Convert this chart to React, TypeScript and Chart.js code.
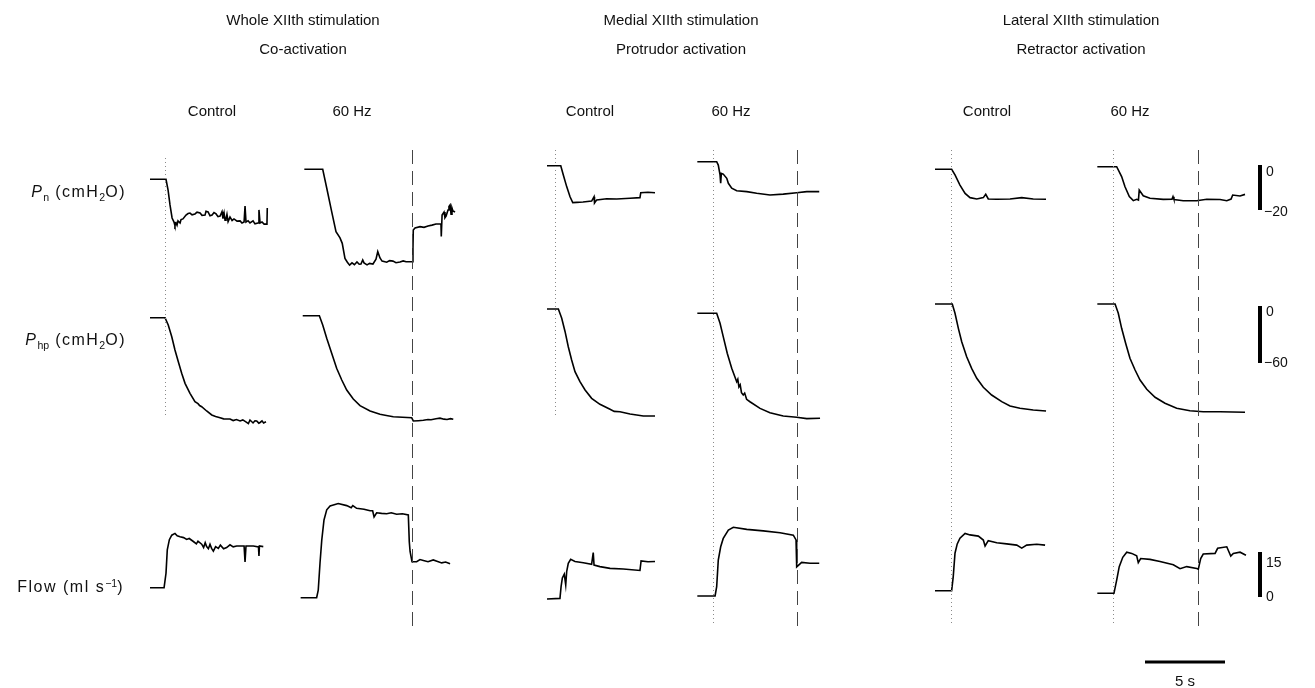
import React, { useEffect, useRef } from "react";
import { Chart, registerables } from "chart.js";

Chart.register(...registerables);

type Pt = [number, number];

// ---------------- DATA: [time from panel start (s), value] ----------------
// Pn (cmH2O)
const wholeCtrlPn: Pt[] = [[0,0],[1.0,0],[1.13,-4.8],[1.25,-11.4],[1.38,-17.2],[1.5,-19.0],[1.56,-20.6],[1.63,-19.4],[1.69,-20.4],[1.75,-18.5],[1.88,-19.4],[1.94,-17.9],[2.06,-17.6],[2.25,-15.9],[2.38,-15.2],[2.5,-15.0],[2.63,-15.8],[2.81,-15.4],[2.94,-14.6],[3.13,-15.0],[3.25,-16.0],[3.44,-15.9],[3.5,-14.2],[3.63,-14.5],[3.75,-16.2],[3.88,-15.9],[4.0,-14.8],[4.13,-15.4],[4.25,-16.6],[4.38,-16.3],[4.5,-14.4],[4.56,-17.5],[4.63,-15.0],[4.69,-18.2],[4.75,-17.6],[4.81,-15.6],[4.88,-18.8],[5.0,-16.8],[5.13,-18.3],[5.25,-17.6],[5.44,-18.6],[5.63,-18.5],[5.75,-19.4],[5.88,-19.0],[5.94,-11.9],[6.0,-19.0],[6.13,-18.4],[6.25,-19.4],[6.44,-18.5],[6.56,-19.8],[6.75,-19.4],[6.81,-13.6],[6.88,-19.4],[7.0,-19.0],[7.13,-19.9],[7.31,-19.9],[7.33,-12.8]];
const wholeHzPn: Pt[] = [[0.27,0],[1.42,0],[1.67,-8.3],[1.98,-18.8],[2.25,-27.7],[2.5,-30.5],[2.64,-32.9],[2.81,-39.6],[2.96,-41.3],[3.1,-42.6],[3.25,-41.6],[3.4,-42.4],[3.56,-41.2],[3.7,-42.2],[3.81,-42.1],[3.92,-40.3],[4.0,-41.6],[4.19,-42.5],[4.35,-41.8],[4.56,-42.1],[4.75,-40.0],[4.86,-36.6],[5.0,-39.4],[5.13,-40.8],[5.42,-41.3],[5.6,-40.6],[5.81,-40.8],[6.0,-41.5],[6.25,-41.2],[6.45,-40.7],[6.63,-41.1],[7.04,-41.1],[7.06,-35.1],[7.08,-27.0],[7.19,-26.1],[7.5,-25.5],[7.75,-25.8],[8.0,-25.2],[8.25,-24.8],[8.5,-24.3],[8.81,-24.3],[8.83,-29.9],[8.88,-20.3],[9.0,-19.0],[9.06,-21.5],[9.13,-20.8],[9.25,-18.1],[9.31,-16.5],[9.38,-15.8],[9.44,-20.0],[9.5,-17.2],[9.56,-18.5],[9.69,-19.0]];
const medCtrlPn: Pt[] = [[0,0],[0.86,0],[1.02,-4.1],[1.23,-9.3],[1.44,-13.8],[1.61,-16.4],[1.86,-16.3],[2.25,-16.1],[2.79,-15.7],[2.94,-13.8],[2.97,-16.6],[3.11,-15.2],[3.73,-14.7],[4.36,-14.8],[5.19,-14.5],[5.81,-14.2],[5.86,-12.0],[6.31,-11.8],[6.75,-12.0]];
const medHzPn: Pt[] = [[0.02,0],[1.23,0],[1.33,-1.5],[1.44,-5.9],[1.48,-9.6],[1.52,-5.2],[1.64,-5.5],[1.86,-7.4],[1.96,-9.6],[2.17,-11.8],[2.48,-12.9],[3.11,-13.3],[3.73,-14.0],[4.56,-14.8],[5.39,-14.4],[6.23,-13.8],[6.86,-13.3],[7.64,-13.3]];
const latCtrlPn: Pt[] = [[0,0],[1.04,0],[1.25,-2.5],[1.56,-7.0],[1.88,-10.7],[2.19,-12.6],[2.61,-13.2],[3.02,-12.6],[3.17,-11.1],[3.33,-13.2],[3.86,-13.3],[4.69,-13.2],[5.42,-12.6],[6.14,-13.2],[6.94,-13.3]];
const latHzPn: Pt[] = [[0.02,0],[1.23,0],[1.54,-4.4],[1.75,-8.9],[2.02,-13.3],[2.27,-15.1],[2.48,-14.5],[2.59,-14.8],[2.64,-10.4],[2.89,-12.9],[3.31,-14.0],[4.14,-14.5],[4.69,-14.4],[4.75,-13.3],[4.81,-14.6],[5.39,-15.1],[6.23,-15.1],[6.86,-14.5],[7.69,-14.6],[8.11,-15.1],[8.38,-14.4],[8.48,-12.6],[8.94,-13.0],[9.25,-12.3]];

// Php (cmH2O)
const wholeCtrlPhp: Pt[] = [[0,0],[0.94,0],[1.14,-7.7],[1.36,-20.0],[1.56,-34.0],[1.77,-46.3],[1.98,-58.5],[2.19,-69.1],[2.5,-79.6],[2.81,-88.4],[3.0,-90.5],[3.1,-92.5],[3.23,-93.7],[3.54,-98.2],[3.86,-102.4],[4.1,-104.0],[4.38,-105.3],[4.6,-106.5],[5.0,-106.6],[5.2,-108.3],[5.4,-107.2],[5.63,-108.7],[5.8,-107.6],[6.04,-110.1],[6.15,-111.5],[6.25,-107.7],[6.44,-110.8],[6.56,-108.5],[6.67,-108.7],[6.8,-111.0],[6.88,-110.3],[7.0,-108.6],[7.1,-110.8],[7.25,-109.5]];
const wholeHzPhp: Pt[] = [[0.17,0],[1.21,0],[1.42,-9.8],[1.67,-23.8],[1.98,-39.6],[2.29,-55.4],[2.61,-67.7],[2.92,-78.2],[3.33,-87.7],[3.75,-94.7],[4.38,-100.3],[5.0,-103.8],[5.4,-105.0],[5.83,-106.3],[6.4,-106.9],[6.98,-107.4],[7.08,-110.8],[7.4,-110.5],[7.71,-110.1],[8.0,-109.2],[8.19,-109.5],[8.5,-108.4],[8.75,-107.8],[9.0,-108.9],[9.19,-109.2],[9.4,-108.4],[9.58,-109.1]];
const medCtrlPhp: Pt[] = [[0,0],[0.71,0],[0.92,-9.8],[1.13,-23.9],[1.33,-39.7],[1.54,-53.7],[1.75,-66.0],[2.06,-76.5],[2.38,-85.3],[2.79,-94.0],[3.31,-100.3],[3.94,-105.6],[4.2,-107.8],[4.56,-108.1],[5.19,-110.5],[6.02,-112.6],[6.75,-112.6]];
const medHzPhp: Pt[] = [[0.02,0],[1.23,0],[1.44,-10.5],[1.64,-24.6],[1.89,-42.1],[2.17,-57.9],[2.48,-72.0],[2.55,-69.5],[2.62,-77.5],[2.7,-75.2],[2.78,-83.5],[2.89,-86.0],[2.98,-84.0],[3.1,-90.5],[3.31,-93.1],[3.94,-100.1],[4.56,-104.6],[5.39,-108.1],[6.23,-109.5],[6.86,-110.9],[7.69,-110.5]];
const latCtrlPhp: Pt[] = [[0,0],[1.08,0],[1.25,-9.8],[1.46,-25.6],[1.67,-39.7],[1.98,-55.5],[2.29,-67.7],[2.61,-78.2],[3.02,-87.7],[3.54,-95.8],[4.17,-102.8],[4.69,-107.4],[5.31,-109.8],[6.14,-111.6],[6.94,-112.6]];
const latHzPhp: Pt[] = [[0.02,0],[1.13,0],[1.33,-9.8],[1.54,-25.6],[1.79,-41.4],[2.06,-57.2],[2.38,-69.5],[2.69,-80.0],[3.11,-89.8],[3.63,-98.2],[4.25,-104.5],[4.98,-109.8],[5.81,-112.3],[6.64,-113.4],[7.69,-113.4],[9.25,-114.0]];

// Flow (ml s-1)
const wholeCtrlFlow: Pt[] = [[0,0],[0.88,0],[1.0,4.8],[1.08,12.6],[1.21,16.0],[1.36,17.5],[1.56,18.1],[1.7,17.3],[1.88,17.0],[2.1,16.7],[2.29,16.1],[2.45,16.4],[2.71,15.4],[2.9,14.6],[3.0,15.5],[3.23,14.5],[3.35,13.4],[3.45,15.0],[3.54,13.7],[3.65,13.0],[3.75,14.5],[3.85,13.1],[3.96,12.2],[4.1,13.7],[4.27,13.1],[4.4,14.2],[4.6,13.0],[4.79,13.4],[5.0,14.3],[5.2,13.6],[5.42,13.9],[5.88,13.9],[5.94,8.6],[6.0,13.9],[6.46,13.9],[6.78,13.6],[6.81,10.6],[6.84,13.9],[7.08,13.7]];
const wholeHzFlow: Pt[] = [[0.04,0],[1.04,0],[1.14,2.5],[1.25,11.5],[1.36,19.2],[1.5,25.9],[1.67,29.3],[1.88,30.6],[2.39,31.4],[2.92,30.7],[3.2,30.0],[3.3,30.7],[3.54,29.8],[4.0,29.5],[4.38,29.0],[4.54,29.0],[4.63,26.9],[4.79,28.3],[5.1,28.1],[5.42,28.0],[5.7,28.3],[6.04,27.8],[6.4,28.0],[6.77,27.6],[6.83,18.7],[6.88,15.4],[7.0,12.0],[7.29,12.0],[7.5,12.7],[7.71,12.4],[8.0,12.0],[8.33,12.6],[8.6,12.1],[8.86,11.6],[9.1,11.9],[9.38,11.3]];
const medCtrlFlow: Pt[] = [[0,0],[0.81,0.2],[0.88,4.1],[0.96,7.0],[1.08,8.3],[1.17,4.7],[1.23,9.1],[1.33,11.9],[1.48,13.2],[1.75,12.5],[2.27,12.1],[2.79,11.6],[2.89,15.5],[2.94,11.3],[3.31,10.8],[3.94,10.2],[4.77,10.0],[5.81,9.5],[5.88,12.7],[6.31,12.4],[6.75,12.5]];
const medHzFlow: Pt[] = [[0.02,0],[1.13,0],[1.23,3.1],[1.33,12.0],[1.48,16.4],[1.64,19.2],[1.96,22.0],[2.27,22.9],[3.11,22.2],[4.14,21.7],[5.19,21.1],[6.02,20.3],[6.19,18.7],[6.23,9.7],[6.54,11.2],[7.06,10.9],[7.64,10.9]];
const latCtrlFlow: Pt[] = [[0,0],[1.04,0],[1.14,4.7],[1.25,12.5],[1.39,15.6],[1.56,17.5],[1.88,19.1],[2.19,18.6],[2.71,18.2],[3.02,16.9],[3.13,14.9],[3.33,16.7],[3.86,16.0],[4.48,15.6],[5.11,15.2],[5.42,14.2],[5.73,15.2],[6.36,15.5],[6.88,15.2]];
const latHzFlow: Pt[] = [[0.02,0],[1.06,0],[1.23,4.4],[1.39,8.9],[1.61,12.0],[1.86,13.7],[2.17,13.3],[2.48,12.5],[2.58,10.2],[2.73,11.6],[3.31,11.3],[3.94,10.6],[4.77,9.5],[5.19,8.2],[5.61,8.9],[6.23,8.3],[6.33,8.0],[6.48,11.6],[6.64,13.1],[7.38,13.3],[7.54,15.0],[8.11,15.5],[8.36,12.4],[8.52,13.3],[8.94,13.7],[9.31,12.7]];

// stimulus markers (s from panel start); null = none drawn
const stimOnset: (number | null)[] = [0.94, null, 0.5, 1.0, 1.0, 1.0];
const stimOffset: (number | null)[] = [null, 7.0, null, 6.25, null, 6.31];

// calibration bars
const pnBar = [0, -20];
const phpBar = [0, -60];
const flowBar = [0, 15];
const timeBarS = 5;

const groupTitles = ["Whole XIIth stimulation", "Medial XIIth stimulation", "Lateral XIIth stimulation"];
const groupSubtitles = ["Co-activation", "Protrudor activation", "Retractor activation"];
const panelTitles = ["Control", "60 Hz", "Control", "60 Hz", "Control", "60 Hz"];

// ---------------- LAYOUT ----------------
const W = 1315;
const H = 688;
const PX_PER_S = 16;
const ROW_PX = [2.25, 0.95, 3.0]; // px per unit: Pn, Php, Flow

const panels = [
  { left: 150, base: [179.3, 317.7, 587.7], traces: [wholeCtrlPn, wholeCtrlPhp, wholeCtrlFlow], dotSpan: [158, 418] },
  { left: 300, base: [169.3, 315.7, 597.7], traces: [wholeHzPn, wholeHzPhp, wholeHzFlow], dotSpan: [150, 625] },
  { left: 547, base: [165.7, 309, 599], traces: [medCtrlPn, medCtrlPhp, medCtrlFlow], dotSpan: [150, 418] },
  { left: 697, base: [161.7, 313.3, 596], traces: [medHzPn, medHzPhp, medHzFlow], dotSpan: [150, 625] },
  { left: 935, base: [169.3, 304, 590.7], traces: [latCtrlPn, latCtrlPhp, latCtrlFlow], dotSpan: [150, 625] },
  { left: 1097, base: [166.7, 304, 593.3], traces: [latHzPn, latHzPhp, latHzFlow], dotSpan: [150, 625] },
];
const DASH_SPAN = [150, 633];
const BAR_X = 1260;
const BAR_ZERO = [165, 306, 597];
const TIME_BAR_LEFT = 1145;
const TIME_BAR_Y = 662;

function yAxis(zeroPx: number, pxPerUnit: number) {
  const max = zeroPx / pxPerUnit;
  return { type: "linear" as const, display: false, min: max - H / pxPerUnit, max };
}

const markerPlugin = {
  id: "markers",
  afterDatasetsDraw(chart: any) {
    const { ctx } = chart;
    const xs = chart.scales.x;
    ctx.save();
    panels.forEach((p, i) => {
      const on = stimOnset[i];
      if (on !== null) {
        const x = Math.round(xs.getPixelForValue(p.left / PX_PER_S + on)) + 0.5;
        ctx.strokeStyle = "#8a8a8a";
        ctx.lineWidth = 1;
        ctx.setLineDash([1, 3]);
        ctx.beginPath();
        ctx.moveTo(x, p.dotSpan[0]);
        ctx.lineTo(x, p.dotSpan[1]);
        ctx.stroke();
      }
      const off = stimOffset[i];
      if (off !== null) {
        const x = Math.round(xs.getPixelForValue(p.left / PX_PER_S + off)) + 0.5;
        ctx.strokeStyle = "#444";
        ctx.lineWidth = 1;
        ctx.setLineDash([14, 7]);
        ctx.beginPath();
        ctx.moveTo(x, DASH_SPAN[0]);
        ctx.lineTo(x, DASH_SPAN[1]);
        ctx.stroke();
      }
    });
    ctx.restore();
  },
};

function TraceFigure() {
  const ref = useRef<HTMLCanvasElement | null>(null);
  useEffect(() => {
    if (!ref.current) return;
    const scales: any = {
      x: { type: "linear", display: false, min: 0, max: W / PX_PER_S },
    };
    const datasets: any[] = [];
    panels.forEach((p, i) => {
      p.traces.forEach((tr, r) => {
        const id = `y${i}_${r}`;
        scales[id] = yAxis(p.base[r], ROW_PX[r]);
        datasets.push({
          data: tr.map(([t, v]) => ({ x: p.left / PX_PER_S + t, y: v })),
          yAxisID: id,
          borderColor: "#000",
          borderWidth: 1.6,
          pointRadius: 0,
          tension: 0,
          fill: false,
        });
      });
    });
    const bars = [pnBar, phpBar, flowBar];
    bars.forEach((b, r) => {
      const id = `bar${r}`;
      scales[id] = yAxis(BAR_ZERO[r], ROW_PX[r]);
      datasets.push({
        data: b.map((v) => ({ x: BAR_X / PX_PER_S, y: v })),
        yAxisID: id,
        borderColor: "#000",
        borderWidth: 4,
        borderCapStyle: "butt",
        pointRadius: 0,
      });
    });
    scales.barT = yAxis(TIME_BAR_Y, 1);
    datasets.push({
      data: [0, timeBarS].map((t) => ({ x: TIME_BAR_LEFT / PX_PER_S + t, y: 0 })),
      yAxisID: "barT",
      borderColor: "#000",
      borderWidth: 3,
      borderCapStyle: "butt",
      pointRadius: 0,
    });

    const chart = new Chart(ref.current, {
      type: "line",
      data: { datasets },
      options: {
        animation: false,
        responsive: false,
        events: [],
        layout: { padding: 0 },
        scales,
        plugins: { legend: { display: false }, tooltip: { enabled: false }, title: { display: false } },
      } as any,
      plugins: [markerPlugin],
    });
    return () => chart.destroy();
  }, []);
  return <canvas ref={ref} width={W} height={H} style={{ position: "absolute", left: 0, top: 0, width: W, height: H }} />;
}

const abs = (x: number, y: number, extra: React.CSSProperties = {}): React.CSSProperties => ({
  position: "absolute",
  left: x,
  top: y,
  transform: "translate(-50%, -50%)",
  whiteSpace: "nowrap",
  ...extra,
});

const subStyle: React.CSSProperties = { fontSize: "0.66em", position: "relative", top: "0.35em", verticalAlign: "baseline", letterSpacing: 0 };
const supStyle: React.CSSProperties = { fontSize: "0.66em", position: "relative", top: "-0.45em", verticalAlign: "baseline", letterSpacing: 0 };
const rowLabel = (right: number, centerY: number): React.CSSProperties => ({
  position: "absolute",
  right: W - right,
  top: centerY,
  transform: "translateY(-50%)",
  whiteSpace: "nowrap",
  fontSize: 16,
  letterSpacing: 1.5,
  lineHeight: "18px",
});

export default function App() {
  const groupX = [303, 681, 1081];
  const panelX = [212, 352, 590, 731, 987, 1130];
  return (
    <div
      style={{
        position: "fixed",
        left: 0,
        top: 0,
        width: W,
        height: H,
        background: "#fff",
        overflow: "hidden",
        fontFamily: '"Liberation Sans", Arial, Helvetica, sans-serif',
        color: "#111",
        fontSize: 15,
      }}
    >
      <TraceFigure />
      {groupTitles.map((t, i) => (
        <div key={"g" + i} style={abs(groupX[i], 19)}>{t}</div>
      ))}
      {groupSubtitles.map((t, i) => (
        <div key={"s" + i} style={abs(groupX[i], 48)}>{t}</div>
      ))}
      {panelTitles.map((t, i) => (
        <div key={"p" + i} style={abs(panelX[i], 110)}>{t}</div>
      ))}
      <div style={rowLabel(126, 192)}>
        <i>P</i><span style={subStyle}>n</span> (cmH<span style={subStyle}>2</span>O)
      </div>
      <div style={rowLabel(126, 340)}>
        <i>P</i><span style={subStyle}>hp</span> (cmH<span style={subStyle}>2</span>O)
      </div>
      <div style={rowLabel(124, 587)}>
        Flow (ml s<span style={supStyle}>−1</span>)
      </div>
      <div style={{ position: "absolute", left: 1266, top: 163, fontSize: 14 }}>0</div>
      <div style={{ position: "absolute", left: 1264, top: 203, fontSize: 14 }}>−20</div>
      <div style={{ position: "absolute", left: 1266, top: 303, fontSize: 14 }}>0</div>
      <div style={{ position: "absolute", left: 1264, top: 354, fontSize: 14 }}>−60</div>
      <div style={{ position: "absolute", left: 1266, top: 554, fontSize: 14 }}>15</div>
      <div style={{ position: "absolute", left: 1266, top: 588, fontSize: 14 }}>0</div>
      <div style={abs(1185, 680)}>5 s</div>
    </div>
  );
}
